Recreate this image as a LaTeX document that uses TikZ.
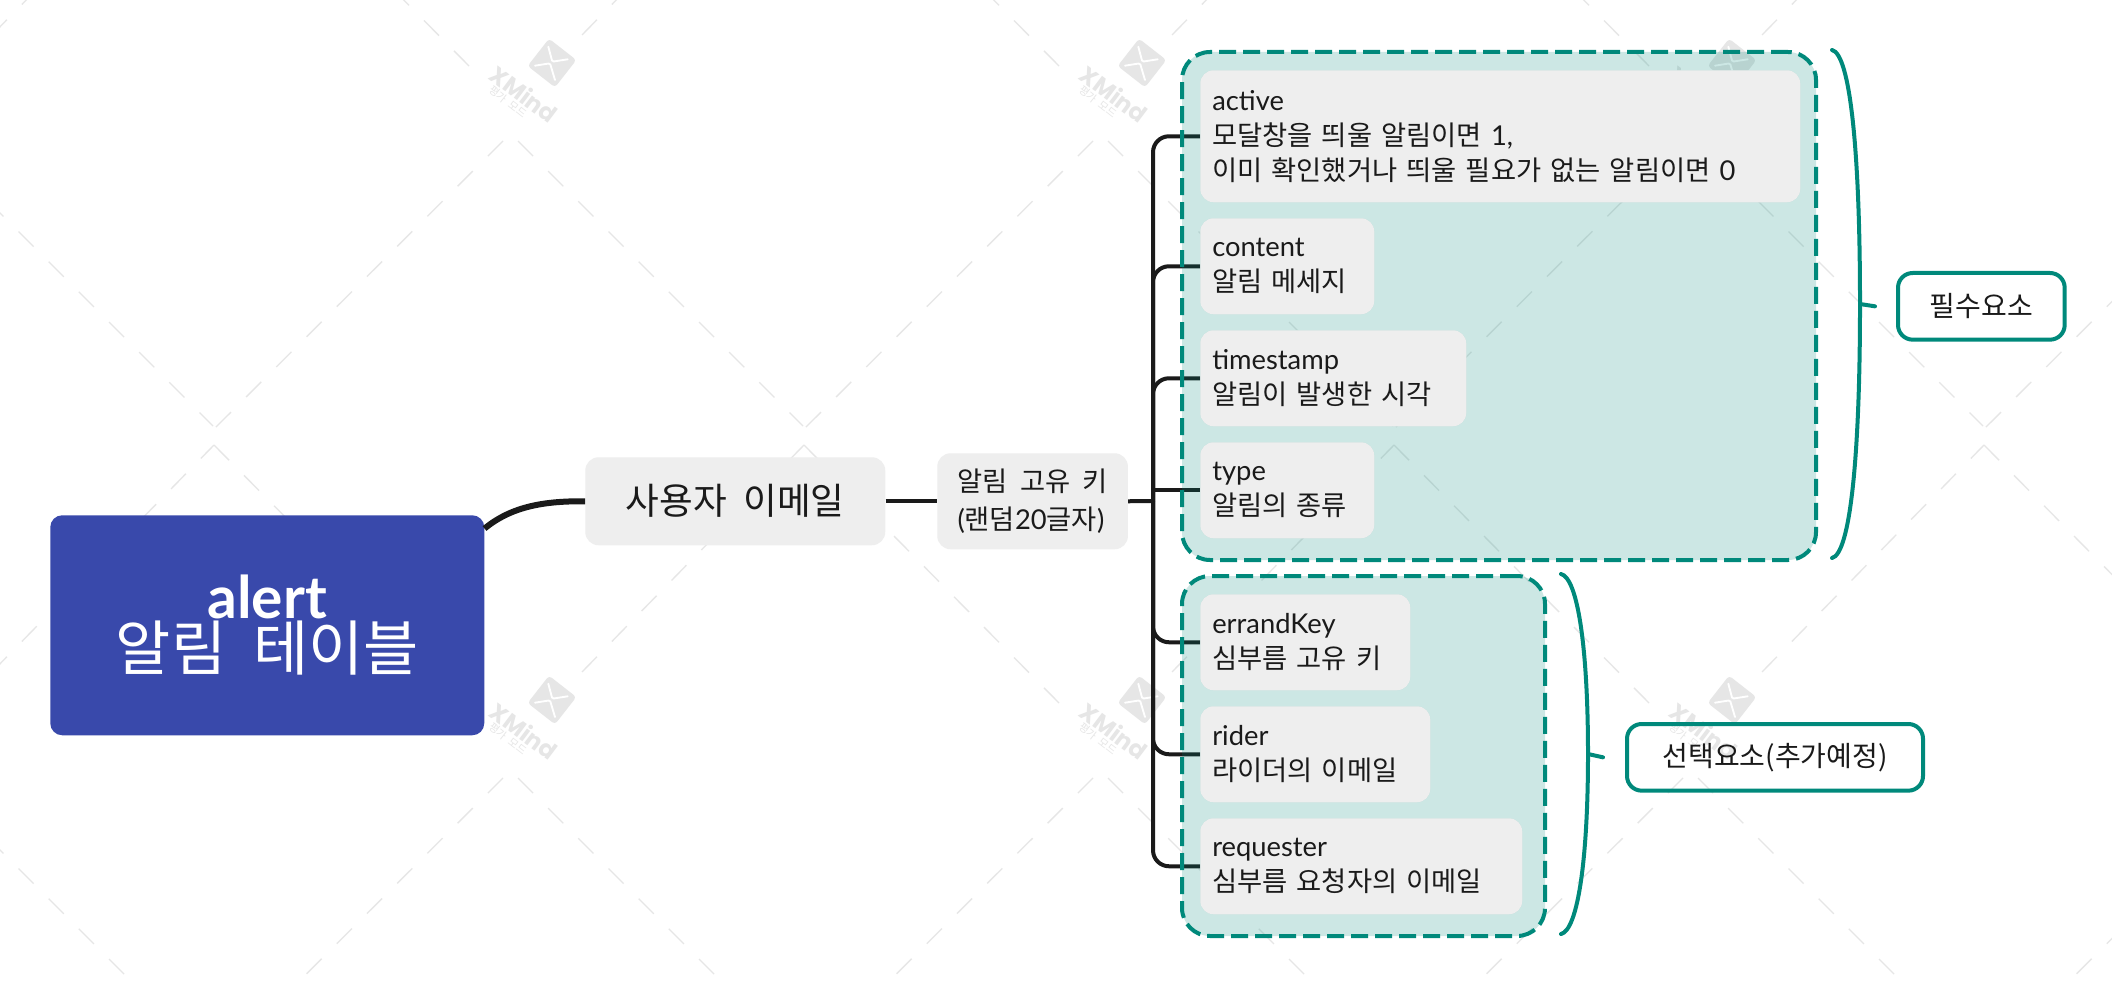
\documentclass[tikz,border=0pt]{standalone}
\usepackage{fontspec}
\setmainfont{Lato}
\newfontfamily\krf{Noto Sans CJK KR}[WordSpace=2]
\newfontfamily\wmf{Poppins}
\newcommand{\kr}[1]{{\krf #1}}
\definecolor{teal1}{HTML}{00897B}
\definecolor{ink}{HTML}{1A1A1A}
\definecolor{gray1}{HTML}{EEEEEE}
\definecolor{indigo1}{HTML}{3949AB}
\definecolor{wm}{HTML}{E6E6E6}
\tikzset{
  gridline/.style={wm,line width=1pt,dash pattern=on 16pt off 16pt},
  wmark/.pic={
    \node[fill=wm,rounded corners=2.5pt,minimum size=26pt,inner sep=0pt,rotate=-38] (-s) at (0,0) {};
    \draw[white,line width=1.4pt,rounded corners=1pt,line cap=round] (-3.7,-16.3) -- (0.3,-1.3) -- (15.7,-3.7);
    \draw[white,line width=1.4pt,rounded corners=1pt,line cap=round] (-17,2.7) -- (-2,0.3) -- (3,17);
    \node[wm,rotate=-37,inner sep=0pt] (-t) at (-28,31) {\wmf\bfseries\fontsize{17.5}{18}\selectfont XMind};
    \node[wm,rotate=-38,inner sep=0pt] (-m) at (-44,39) {\krf\fontsize{8}{9}\selectfont 평가 모드};
  },
  cn/.style={ink,line width=3pt},
  topicbox/.style={fill=gray1,rounded corners=10pt,text=ink,inner sep=0pt},
  child/.style={topicbox,align=left,anchor=north west,inner xsep=9pt,
    font=\fontsize{20.5}{26.25}\selectfont},
  grp/.style={anchor=north west,inner sep=0pt,rounded corners=21pt,fill=teal1,fill opacity=.2,draw=teal1,draw opacity=1,
    line width=3pt,dash pattern=on 12.75pt off 5.25pt},
  lbl/.style={anchor=north west,inner sep=0pt,rounded corners=11pt,draw=teal1,line width=3pt,text=ink,align=center,
    font=\krf\fontsize{21}{26}\selectfont},
  brace/.style={teal1,line width=3pt,line cap=round},
}
\begin{document}
\begin{tikzpicture}[x=0.75pt,y=-0.75pt]
\useasboundingbox (0,0) rectangle (2112,984);
\fill[white] (0,0) rectangle (2112,984);
\begin{scope}
\clip (0,0) rectangle (2112,984);
\foreach \i in {-1,0,1,2,3} \foreach \j in {-1,0,1,2} {
  \begin{scope}[shift={(552+590*\i,63+637*\j-0)}]
    \draw[gridline] (-49,78) -- (-339,367);
    \draw[gridline] (-34,78) -- (251,363);
    \draw[gridline] (-83,3) -- (-338,-255);
    \draw[gridline] (30,-28) -- (252,-255);
  \end{scope}
}
\foreach \i in {0,1,2} \foreach \j in {0,1} {
  \pic (w\i\j) at (552+590*\i,63+637*\j) {wmark};
}
\end{scope}

% nodes are placed first as coordinates so connectors lie under the groups
\coordinate (trunk) at (1153,501);
\path
  (1200,70)  node[child,text width=432pt,minimum height=99pt] (active) {active\\\kr{모달창을 띄울 알림이면} 1,\\\kr{이미 확인했거나 띄울 필요가 없는 알림이면} 0}
  (1200,218) node[child,text width=112.5pt,minimum height=72pt] (content) {content\\\kr{알림 메세지}}
  (1200,330) node[child,text width=181.5pt,minimum height=72pt] (timestamp) {timestamp\\\kr{알림이 발생한 시각}}
  (1200,442) node[child,text width=112.5pt,minimum height=72pt] (type) {type\\\kr{알림의 종류}}
  (1200,594) node[child,text width=139.5pt,minimum height=72pt] (errand) {errandKey\\\kr{심부름 고유 키}}
  (1200,706) node[child,text width=154.5pt,minimum height=72pt] (rider) {rider\\\kr{라이더의 이메일}}
  (1200,818) node[child,text width=223.5pt,minimum height=72pt] (requester) {requester\\\kr{심부름 요청자의 이메일}};

\node[topicbox,anchor=north west,minimum width=225pt,minimum height=66pt,font=\krf\fontsize{27.5}{30}\selectfont] (main) at (585,457) {사용자 이메일};
\node[topicbox,anchor=north west,minimum width=143pt,minimum height=72pt,align=left,font=\fontsize{20.5}{28}\selectfont] (key) at (937,453) {\kr{알림 고유 키}\\[0pt](\kr{랜덤}20\kr{글자})};
\node[anchor=north west,fill=indigo1,rounded corners=9pt,inner sep=0pt,minimum width=325.5pt,minimum height=165pt,text=white,align=center] (root) at (50,515)
  {{\fontsize{44}{57}\selectfont\bfseries alert}\\{\krf\fontsize{45}{57}\selectfont 알림 테이블}};

% connectors
\draw[ink,line width=4.5pt] (root.24.5) .. controls (512,506) and (545,501) .. (main.west);
\draw[cn] (main.east) -- (key.west);
\draw[cn] (key.east) -- (trunk);
\draw[cn,rounded corners=12pt] (trunk) |- (active.west);
\draw[cn,rounded corners=12pt] (trunk) |- (content.west);
\draw[cn,rounded corners=12pt] (trunk) |- (timestamp.west);
\draw[cn] (trunk) |- (type.west);
\draw[cn,rounded corners=12pt] (trunk) |- (errand.west);
\draw[cn,rounded corners=12pt] (trunk) |- (rider.west);
\draw[cn,rounded corners=12pt] (trunk) |- (requester.west);

% groups (translucent, over connectors)
\node[grp,minimum width=475.5pt,minimum height=381pt] (g1) at (1180,50) {};
\node[grp,minimum width=272.25pt,minimum height=270pt] (g2) at (1180,574) {};

% redraw topic boxes above the groups
\path
  (1200,70)  node[child,text width=432pt,minimum height=99pt] (activeb) {active\\\kr{모달창을 띄울 알림이면} 1,\\\kr{이미 확인했거나 띄울 필요가 없는 알림이면} 0}
  (1200,218) node[child,text width=112.5pt,minimum height=72pt] (contentb) {content\\\kr{알림 메세지}}
  (1200,330) node[child,text width=181.5pt,minimum height=72pt] (timestampb) {timestamp\\\kr{알림이 발생한 시각}}
  (1200,442) node[child,text width=112.5pt,minimum height=72pt] (typeb) {type\\\kr{알림의 종류}}
  (1200,594) node[child,text width=139.5pt,minimum height=72pt] (errandb) {errandKey\\\kr{심부름 고유 키}}
  (1200,706) node[child,text width=154.5pt,minimum height=72pt] (riderb) {rider\\\kr{라이더의 이메일}}
  (1200,818) node[child,text width=223.5pt,minimum height=72pt] (requesterb) {requester\\\kr{심부름 요청자의 이메일}};

% labels and braces
\node[lbl,minimum width=125pt,minimum height=50pt] (must) at (1896,271) {필수요소};
\node[lbl,minimum width=222pt,minimum height=50pt] (opt) at (1625,722) {선택요소(추가예정)};
\coordinate (b1t) at (1832,50);
\coordinate (b1b) at (1832,558);
\coordinate (b1m) at (1860,304);
\draw[brace] (b1t) .. controls (1850,54) and (1860,150) .. (b1m) .. controls (1860,458) and (1850,554) .. (b1b);
\draw[brace] (b1m) -- (must.west -| 1875,304);
\coordinate (b2t) at (1561,574);
\coordinate (b2b) at (1561,934);
\coordinate (b2m) at (1588,754);
\draw[brace] (b2t) .. controls (1578,578) and (1588,650) .. (b2m) .. controls (1588,858) and (1578,930) .. (b2b);
\draw[brace] (b2m) -- (opt.west -| 1603,754);
\end{tikzpicture}
\end{document}
